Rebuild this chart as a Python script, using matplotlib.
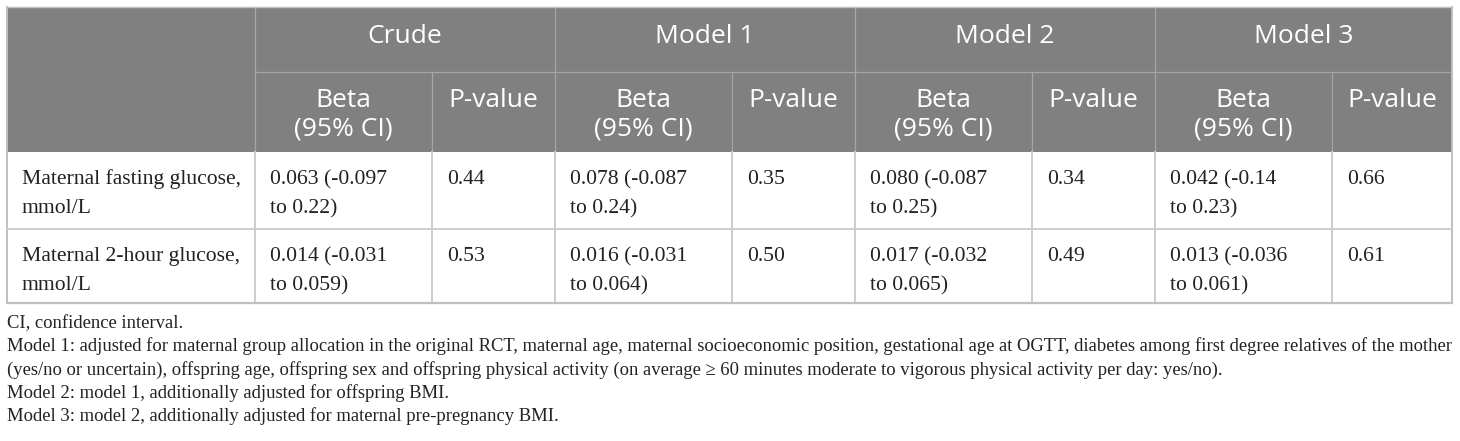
import matplotlib
matplotlib.use("Agg")
import matplotlib.pyplot as plt
from matplotlib.patches import Rectangle

# table content
groups = ["Crude", "Model 1", "Model 2", "Model 3"]
beta_header = ["Beta", "(95% CI)"]
p_header = "P-value"
row_labels = ["Maternal fasting glucose, mmol/L",
              "Maternal 2-hour glucose, mmol/L"]
beta_fasting = ["0.063 (-0.097 to 0.22)", "0.078 (-0.087 to 0.24)",
                "0.080 (-0.087 to 0.25)", "0.042 (-0.14 to 0.23)"]
p_fasting = ["0.44", "0.35", "0.34", "0.66"]
beta_2h = ["0.014 (-0.031 to 0.059)", "0.016 (-0.031 to 0.064)",
           "0.017 (-0.032 to 0.065)", "0.013 (-0.036 to 0.061)"]
p_2h = ["0.53", "0.50", "0.49", "0.61"]
notes = [
    "CI, confidence interval.",
    "Model 1: adjusted for maternal group allocation in the original RCT, maternal age, maternal socioeconomic position, gestational age at OGTT, diabetes among first degree relatives of the mother",
    "(yes/no or uncertain), offspring age, offspring sex and offspring physical activity (on average \u2265 60 minutes moderate to vigorous physical activity per day: yes/no).",
    "Model 2: model 1, additionally adjusted for offspring BMI.",
    "Model 3: model 2, additionally adjusted for maternal pre-pregnancy BMI.",
]

W, H = 1460, 441
fig = plt.figure(figsize=(W / 100, H / 100), dpi=100)
ax = fig.add_axes([0, 0, 1, 1])
ax.set_xlim(0, W)
ax.set_ylim(H, 0)
ax.axis("off")

left, right = 7, 1452
top, hsplit, hbot = 7, 72, 152
row_tops = [152, 229]
bottom = 303
group_x = [255, 555, 855, 1155]
beta_w = 177
group_right = group_x[1:] + [right]
pad = 15

HEAD = "#808080"
HLINE = "#a6a6a6"
GRID = "#cccccc"
TXT = "#222222"

# header background
ax.add_patch(Rectangle((left, top), right - left, hbot - top, facecolor=HEAD,
                       edgecolor="none"))
for gx in group_x:
    ax.plot([gx, gx], [top, hbot], color=HLINE, lw=0.9)
    ax.plot([gx + beta_w, gx + beta_w], [hsplit, hbot], color=HLINE, lw=0.9)
ax.plot([group_x[0], right], [hsplit, hsplit], color=HLINE, lw=0.9)
ax.plot([left, right], [top, top], color="#bfbfbf", lw=1.0)

# body grid
for gx in group_x:
    ax.plot([gx, gx], [hbot, bottom], color=GRID, lw=1.4)
    ax.plot([gx + beta_w, gx + beta_w], [hbot, bottom], color=GRID, lw=1.4)
ax.plot([left, left], [top, bottom], color="#bfbfbf", lw=1.4)
ax.plot([right, right], [top, bottom], color="#bfbfbf", lw=1.4)
ax.plot([left, right], [row_tops[1], row_tops[1]], color=GRID, lw=1.4)
ax.plot([left, right], [bottom, bottom], color="#bfbfbf", lw=1.6)

hfont = dict(family="Open Sans", color="white", fontsize=19)
for g, gx, gr in zip(groups, group_x, group_right):
    ax.text((gx + gr) / 2, 43, g, ha="center", va="baseline", **hfont)
    for k, line in enumerate(beta_header):
        ax.text(gx + beta_w / 2, 107 + k * 28, line, ha="center",
                va="baseline", **hfont)
    ax.text((gx + beta_w + gr) / 2, 107, p_header, ha="center",
            va="baseline", **hfont)

bfont = dict(family="Liberation Serif", color=TXT, fontsize=15.6)
rows = [(beta_fasting, p_fasting), (beta_2h, p_2h)]
for label, (betas, ps), rt in zip(row_labels, rows, row_tops):
    for k, line in enumerate(label.replace(", ", ",\n").split("\n")):
        ax.text(left + pad, rt + 32 + k * 29, line, ha="left",
                va="baseline", **bfont)
    for b, p, gx in zip(betas, ps, group_x):
        for k, line in enumerate(b.replace(" to ", "\nto ").split("\n")):
            ax.text(gx + pad, rt + 32 + k * 29, line, ha="left",
                    va="baseline", **bfont)
        ax.text(gx + beta_w + pad, rt + 32, p, ha="left", va="baseline",
                **bfont)

nfont = dict(family="Liberation Serif", color=TXT, fontsize=13.4)
for i, n in enumerate(notes):
    ax.text(left, 328 + i * 23.3, n, ha="left", va="baseline", **nfont)

fig.savefig("out.png", dpi=100)
